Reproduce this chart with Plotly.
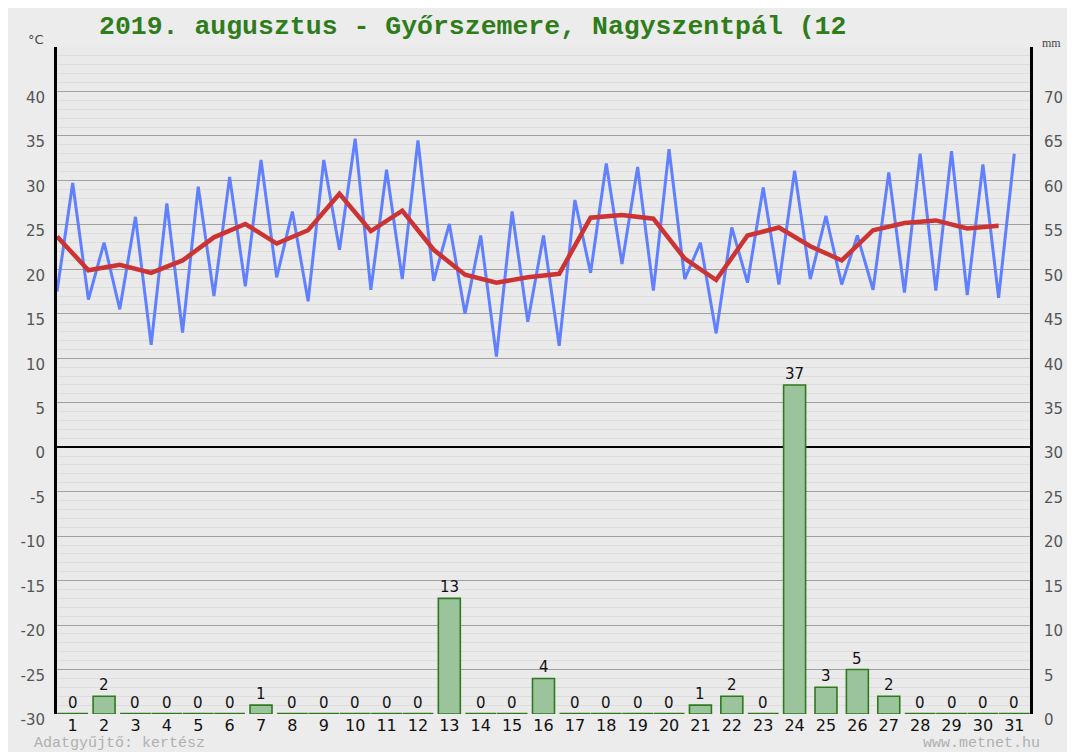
import plotly.graph_objects as go

days = list(range(1, 32))
t_min = [17.5, 16.6, 15.5, 11.5, 12.9, 17.0, 18.1, 19.1, 16.4, 22.2, 17.7, 18.9, 18.7, 15.0, 10.2, 14.1,
         11.4, 19.6, 20.6, 17.6, 18.9, 12.8, 18.5, 18.3, 18.9, 18.3, 17.7, 17.4, 17.6, 17.1, 16.8]
t_max = [29.7, 23.0, 25.9, 27.4, 29.3, 30.4, 32.3, 26.5, 32.3, 34.7, 31.2, 34.5, 25.1, 23.8, 26.5, 23.8,
         27.8, 31.9, 31.5, 33.5, 23.0, 24.7, 29.2, 31.1, 26.0, 23.8, 30.9, 33.0, 33.3, 31.8, 33.0]
t_mean = [23.7, 19.9, 20.5, 19.6, 21.0, 23.6, 25.1, 22.9, 24.4, 28.5, 24.3, 26.6, 22.2, 19.4, 18.5, 19.1,
          19.5, 25.8, 26.1, 25.7, 21.2, 18.8, 23.8, 24.7, 22.6, 21.0, 24.4, 25.2, 25.5, 24.6, 24.9]
precip = [0, 2, 0, 0, 0, 0, 1, 0, 0, 0, 0, 0, 13, 0, 0, 4, 0, 0, 0, 0, 1, 2, 0, 37, 3, 5, 2, 0, 0, 0, 0]

title_text = "2019. augusztus - Győrszemere, Nagyszentpál (12"
left_ticks = list(range(-30, 41, 5))
right_ticks = list(range(0, 71, 5))

# blue line: alternating min (half-day before) and max (day centre)
bx, by = [], []
for d, lo, hi in zip(days, t_min, t_max):
    bx += [d - 0.5, d]
    by += [lo, hi]

fig = go.Figure()

fig.add_trace(go.Bar(
    x=days, y=precip, yaxis="y2", width=0.7,
    marker=dict(color="#9cc49c", line=dict(color="#2e7a1c", width=1.6)),
    hoverinfo="skip"))

zero_days = [d for d, p in zip(days, precip) if p == 0]
fig.add_trace(go.Scatter(
    x=zero_days, y=[0] * len(zero_days), yaxis="y2", mode="markers",
    marker=dict(symbol="line-ew", size=22, line=dict(color="#2e7a1c", width=2.5)),
    hoverinfo="skip"))

fig.add_trace(go.Scatter(
    x=bx, y=by, mode="lines", line=dict(color="#6080ff", width=3), hoverinfo="skip"))

fig.add_trace(go.Scatter(
    x=[d - 0.5 for d in days], y=t_mean, mode="lines",
    line=dict(color="#cc3333", width=4.5), hoverinfo="skip"))

bar_labels = [
    dict(text=str(p), x=d, y=p, xref="x", yref="y2", xanchor="center", yanchor="bottom",
         yshift=1, showarrow=False, borderpad=0,
         font=dict(family="DejaVu Sans", size=15, color="#111"))
    for d, p in zip(days, precip)
]

# page has an 8px body margin, so the figure is sized/margined to compensate
fig.update_layout(
    width=1067, height=744,
    margin=dict(l=49, r=41, t=39, b=38),
    paper_bgcolor="#ececec", plot_bgcolor="#eaeaea",
    showlegend=False,
    xaxis=dict(range=[0.5, 31.5], tickmode="array", tickvals=days, ticktext=[str(d) for d in days],
               showgrid=False, zeroline=False, showline=False, ticks="",
               ticklabelstandoff=0,
               tickfont=dict(family="DejaVu Sans", size=16, color="#111")),
    yaxis=dict(range=[-30, 45], tickmode="array", tickvals=left_ticks,
               ticktext=[str(v) for v in left_ticks],
               showgrid=True, gridcolor="#a0a0a0", gridwidth=1.2,
               minor=dict(dtick=1, showgrid=True, gridcolor="#dddddd", gridwidth=1),
               zeroline=True, zerolinecolor="#000", zerolinewidth=2,
               showline=True, linecolor="#000", linewidth=3, ticks="",
               ticklabelshift=6, ticklabelstandoff=6,
               tickfont=dict(family="DejaVu Sans", size=15, color="#555")),
    yaxis2=dict(range=[0, 75], overlaying="y", side="right", tickmode="array",
                tickvals=right_ticks, ticktext=[str(v) for v in right_ticks],
                showgrid=False, zeroline=False, showline=True, linecolor="#000", linewidth=3,
                ticks="", ticklabelshift=6, ticklabelstandoff=8,
                tickfont=dict(family="DejaVu Sans", size=15, color="#555")),
    annotations=bar_labels + [
        dict(text=title_text, xref="paper", yref="paper", x=(97 - 57) / 977, y=(714 - 27) / 667,
             xanchor="left", yanchor="middle", showarrow=False,
             font=dict(family="Liberation Mono", size=26.5, color="#2e7d1a", weight="bold")),
        dict(text="°C", xref="paper", yref="paper", x=(46 - 57) / 977, y=(714 - 40) / 667,
             xanchor="right", yanchor="middle", showarrow=False,
             font=dict(family="DejaVu Sans", size=13, color="#444")),
        dict(text="mm", xref="paper", yref="paper", x=(1044 - 57) / 977, y=(714 - 43) / 667,
             xanchor="left", yanchor="middle", showarrow=False,
             font=dict(family="Liberation Serif", size=12, color="#444")),
        dict(text="Adatgyűjtő: kertész", xref="paper", yref="paper", x=(33 - 57) / 977,
             y=(714 - 743) / 667, xanchor="left", yanchor="middle", showarrow=False, borderpad=0,
             font=dict(family="Liberation Mono", size=15, color="#b0b0b0")),
        dict(text="www.metnet.hu", xref="paper", yref="paper", x=(1045 - 57) / 977,
             y=(714 - 743) / 667, xanchor="right", yanchor="middle", showarrow=False, borderpad=0,
             font=dict(family="Liberation Mono", size=15, color="#b0b0b0")),
    ],
)

fig.write_html("out.html")
